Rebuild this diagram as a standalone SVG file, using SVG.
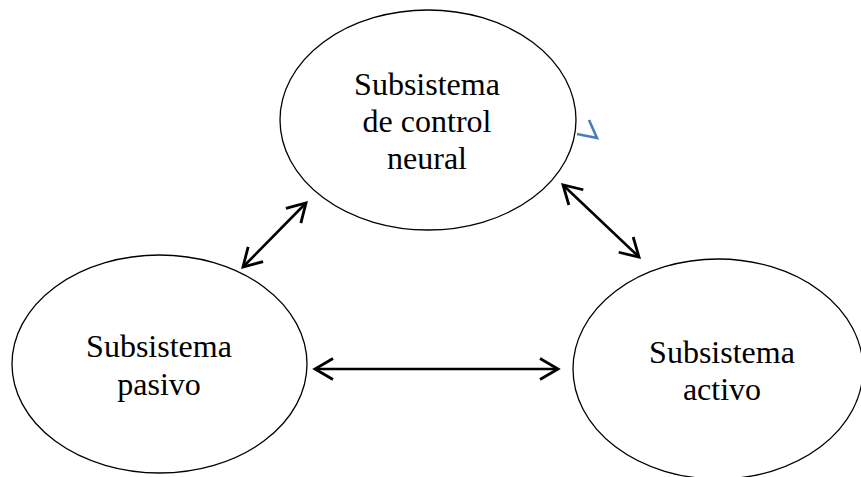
<svg xmlns="http://www.w3.org/2000/svg" width="861" height="477" viewBox="0 0 861 477">
<style>
.node ellipse{fill:#fff;stroke:#000;stroke-width:1.3}
.node text{font-family:"Liberation Serif","Times New Roman",serif;font-size:32px;fill:#000;text-anchor:middle}
.conn line{stroke:#000;stroke-width:2.6;marker-start:url(#ah);marker-end:url(#ah)}
</style>
<defs>
<marker id="ah" viewBox="-22 -13 25 26" markerWidth="25" markerHeight="26" refX="0" refY="0" markerUnits="userSpaceOnUse" orient="auto-start-reverse">
<path d="M-18,-10.5 L0,0 L-18,10.5" fill="none" stroke="#000" stroke-width="2.8" stroke-linejoin="miter"/>
</marker>
</defs>
<rect width="861" height="477" fill="#fff"/>
<g id="neural" class="node">
<ellipse cx="428" cy="120" rx="148" ry="110"/>
<text x="427" y="95">Subsistema</text>
<text x="427" y="132">de control</text>
<text x="427" y="169">neural</text>
</g>
<g id="pasivo" class="node">
<ellipse cx="159.5" cy="364" rx="147.5" ry="109"/>
<text x="159" y="357">Subsistema</text>
<text x="159" y="395">pasivo</text>
</g>
<g id="activo" class="node">
<ellipse cx="718" cy="369" rx="145" ry="110"/>
<text x="722" y="363">Subsistema</text>
<text x="722" y="400">activo</text>
</g>
<g id="connectors" class="conn">
<line x1="243" y1="267" x2="306" y2="203"/>
<line x1="563" y1="185" x2="639" y2="257"/>
<line x1="315" y1="369" x2="558" y2="369"/>
</g>
<path d="M589,120 L597,138 L577,134" fill="none" stroke="#4a7ebb" stroke-width="2.6"/>
</svg>
